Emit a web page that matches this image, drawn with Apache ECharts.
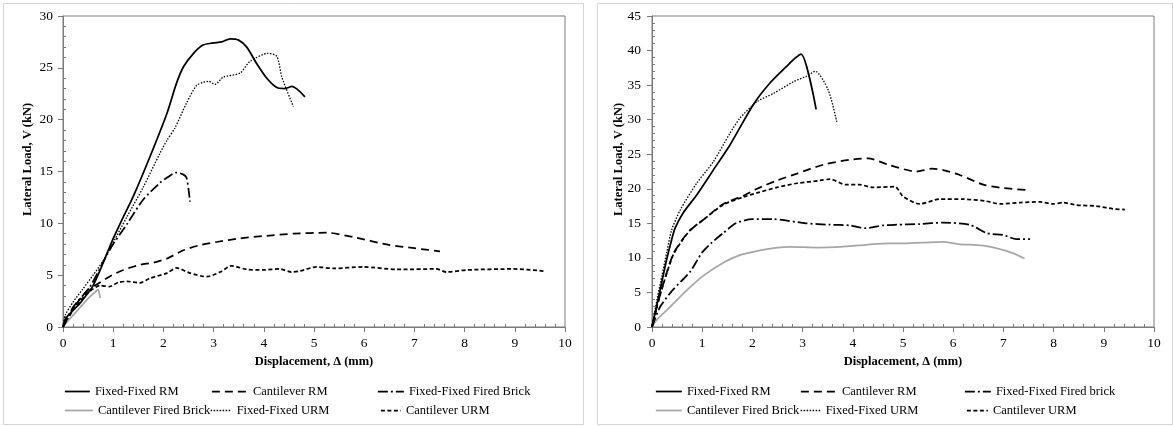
<!DOCTYPE html>
<html>
<head>
<meta charset="utf-8">
<script src="https://cdn.jsdelivr.net/npm/echarts@6/dist/echarts.min.js"></script>
<style>
  html, body { margin: 0; padding: 0; background: #fff; }
  #wrap { position: relative; width: 1173px; height: 426px; }
  #left { position: absolute; left: 0; top: 0; width: 590px; height: 426px; }
  #right { position: absolute; left: 590px; top: 0; width: 583px; height: 426px; }
</style>
</head>
<body>
<div id="wrap"><div id="left"></div><div id="right"></div></div>
<script>
// ---- data: [displacement (mm), lateral load (kN)] ----
const seriesNamesLeft = ['Fixed-Fixed RM', 'Cantilever RM', 'Fixed-Fixed Fired Brick',
  'Cantilever Fired Brick', 'Fixed-Fixed URM', 'Cantilever URM'];
const seriesNamesRight = ['Fixed-Fixed RM', 'Cantilever RM', 'Fixed-Fixed Fired brick',
  'Cantilever Fired Brick', 'Fixed-Fixed URM', 'Cantilever URM'];

const xTicks = [0, 1, 2, 3, 4, 5, 6, 7, 8, 9, 10];
const yTicksLeft = [0, 5, 10, 15, 20, 25, 30];
const yTicksRight = [0, 5, 10, 15, 20, 25, 30, 35, 40, 45];

const leftFixedRM = [[0,0],[0.05,0.8],[0.2,1.6],[0.34,2.3],[0.5,3.3],[0.6,4.0],[0.75,5.6],[0.97,8.2],
  [1.2,10.6],[1.4,12.6],[1.73,16.4],[2.07,20.6],[2.26,23.5],[2.4,25.1],[2.6,26.4],[2.79,27.2],
  [2.99,27.4],[3.16,27.5],[3.33,27.8],[3.49,27.7],[3.66,27.0],[3.86,25.4],[4.06,24.0],[4.26,23.1],
  [4.42,23.0],[4.56,23.2],[4.82,22.2]];
const leftCantRM = [[0,0],[0.25,2.1],[0.5,3.6],[0.67,4.1],[0.94,4.9],[1.2,5.5],[1.53,6.0],[1.8,6.2],
  [2.07,6.6],[2.4,7.4],[2.73,7.9],[3.06,8.2],[3.53,8.55],[4.06,8.8],[4.59,9.0],[5.25,9.1],[5.85,8.6],
  [6.51,7.9],[7.0,7.6],[7.51,7.3]];
const leftFixedBrick = [[0,0],[0.2,1.9],[0.54,3.9],[0.87,6.9],[1.0,8.0],[1.27,9.9],[1.6,12.3],
  [1.93,13.9],[2.1,14.5],[2.26,14.9],[2.4,14.7],[2.46,14.4],[2.5,13.3],[2.53,12.1]];
const leftCantBrick = [[0,0],[0.1,0.6],[0.27,1.5],[0.47,2.6],[0.6,3.2],[0.67,3.5],[0.7,3.6],[0.74,2.8]];
const leftFixedURM = [[0,0],[0.05,1.2],[0.2,2.4],[0.4,3.7],[0.6,5.0],[0.8,6.4],[0.95,7.7],[1.27,10.6],
  [1.6,13.5],[1.93,16.75],[2.07,18.0],[2.23,19.2],[2.46,21.6],[2.66,23.3],[2.79,23.6],[2.9,23.7],
  [3.03,23.4],[3.19,24.1],[3.53,24.5],[3.72,25.6],[4.09,26.4],[4.26,26.1],[4.36,24.1],[4.59,21.25]];
const leftCantURM = [[0,0],[0.25,2.0],[0.5,3.3],[0.74,4.0],[0.93,3.9],[1.1,4.3],[1.27,4.4],[1.53,4.25],
  [1.73,4.7],[2.07,5.2],[2.26,5.7],[2.53,5.2],[2.86,4.85],[3.13,5.3],[3.36,5.9],[3.66,5.55],[3.99,5.5],
  [4.32,5.6],[4.55,5.3],[4.72,5.4],[5.05,5.8],[5.38,5.65],[5.98,5.8],[6.65,5.55],[7.44,5.6],[7.64,5.3],
  [8.04,5.5],[8.97,5.6],[9.57,5.4]];

const rightFixedRM = [[0,0],[0.16,5.3],[0.29,9.7],[0.39,12.6],[0.46,14.3],[0.62,16.5],[0.89,19.1],
  [1.22,22.7],[1.55,26.3],[2.02,32.2],[2.35,35.3],[2.68,37.7],[2.85,38.9],[2.97,39.5],[3.27,31.5]];
const rightCantRM = [[0,0],[0.1,3.0],[0.23,6.4],[0.42,10.5],[0.6,12.6],[0.76,14.0],[1.02,15.5],
  [1.42,17.8],[1.82,19.0],[2.09,20.0],[2.49,21.2],[2.89,22.2],[3.42,23.5],[3.94,24.2],[4.3,24.4],
  [4.74,23.4],[5.27,22.5],[5.57,22.9],[5.8,22.7],[6.13,22.0],[6.6,20.6],[7.0,20.1],[7.53,19.8]];
const rightFixedBrick = [[0,0],[0.16,2.9],[0.42,5.4],[0.76,8.0],[1.0,10.8],[1.19,12.2],[1.42,13.6],
  [1.67,15.0],[2.0,15.6],[2.4,15.6],[3.07,15.0],[3.54,14.8],[3.94,14.7],[4.24,14.3],[4.6,14.7],
  [4.87,14.8],[5.33,14.9],[5.8,15.1],[6.33,14.8],[6.66,13.6],[7.0,13.3],[7.26,12.7],[7.53,12.7]];
const rightCantBrick = [[0,0],[0.09,1.0],[0.36,2.9],[0.69,5.3],[1.02,7.4],[1.42,9.3],[1.75,10.4],
  [2.15,11.1],[2.5,11.5],[2.75,11.6],[3.3,11.5],[3.75,11.6],[4.27,11.9],[4.74,12.1],[5.0,12.1],
  [5.8,12.3],[6.1,12.0],[6.66,11.7],[7.19,10.7],[7.42,9.9]];
const rightFixedURM = [[0,0],[0.1,4.0],[0.2,7.5],[0.3,11.0],[0.39,14.0],[0.56,16.9],[0.89,20.8],
  [1.22,23.9],[1.55,28.0],[1.75,30.2],[2.09,32.6],[2.42,33.8],[2.82,35.5],[3.08,36.3],[3.25,37.0],
  [3.51,34.3],[3.68,29.7]];
const rightCantURM = [[0,0],[0.1,3.0],[0.23,6.3],[0.42,10.4],[0.6,12.5],[0.76,14.0],[1.02,15.5],
  [1.42,17.7],[1.82,18.8],[2.09,19.4],[2.49,20.2],[2.89,20.8],[3.35,21.2],[3.55,21.4],[3.86,20.6],
  [4.13,20.6],[4.4,20.2],[4.84,20.3],[5.0,18.9],[5.33,17.8],[5.73,18.5],[6.2,18.5],[6.66,18.2],
  [6.93,17.8],[7.33,18.0],[7.73,18.1],[7.99,17.8],[8.19,18.0],[8.45,17.65],[8.85,17.5],[9.18,17.1],
  [9.42,17.0]];

// ---- styling ----
const FONT = '"Liberation Serif", "Times New Roman", serif';
const AXIS_GREY = '#7a7a7a';
const lineStyles = [
  { color: '#000000', width: 1.75, type: 'solid' },
  { color: '#000000', width: 1.75, type: [8, 5] },
  { color: '#000000', width: 1.75, type: [10, 3, 2, 3] },
  { color: '#a6a6a6', width: 1.75, type: 'solid' },
  { color: '#000000', width: 1.3, type: [1.5, 1.5] },
  { color: '#000000', width: 1.75, type: [4, 2.5] }
];

function buildPanel(el, names, data, yMax, yTicks, layout) {
  const chart = echarts.init(el, null, { renderer: 'canvas' });
  const xMin = xTicks[0], xMax = xTicks[xTicks.length - 1];
  const xStep = xTicks[1] - xTicks[0];
  const yStep = yTicks[1] - yTicks[0];

  const axisBase = {
    type: 'value',
    gridIndex: 0,
    splitLine: { show: false }
  };

  // one legend block per key so the two rows line up in columns
  const legends = names.map((n, i) => ({
    data: [n],
    left: layout.legend[i][0],
    top: layout.legend[i][1],
    itemWidth: layout.legend[i][2],
    itemHeight: 12,
    padding: 0,
    selectedMode: false,
    itemStyle: { opacity: 0 },
    lineStyle: { width: lineStyles[i].width, type: lineStyles[i].type, color: lineStyles[i].color },
    textStyle: { fontFamily: FONT, fontSize: 12.5, color: '#000' }
  }));

  chart.setOption({
    animation: false,
    backgroundColor: '#ffffff',
    grid: {
      left: layout.gridLeft, top: 16, width: 502, height: 311,
      show: true, borderColor: AXIS_GREY, borderWidth: 1, backgroundColor: 'transparent'
    },
    legend: legends,
    xAxis: [
      Object.assign({}, axisBase, {
        min: xMin, max: xMax, interval: xStep, position: 'bottom',
        axisLine: { onZero: false, lineStyle: { color: AXIS_GREY, width: 1 } },
        axisTick: { show: true, inside: false, length: 5, lineStyle: { color: AXIS_GREY } },
        axisLabel: { margin: 9, fontFamily: FONT, fontSize: 13.5, color: '#000' },
        name: 'Displacement, Δ (mm)', nameLocation: 'middle', nameGap: 28,
        nameMoveOverlap: false,
        nameTextStyle: { fontFamily: FONT, fontSize: 12.5, fontWeight: 'bold', color: '#000' }
      }),
      Object.assign({}, axisBase, {
        min: xMin, max: xMax, interval: xStep, position: 'bottom',
        axisLine: { show: false, onZero: false },
        axisTick: { show: false, inside: true },
        axisLabel: { show: false },
        minorTick: { show: true, splitNumber: 5, length: 3, lineStyle: { color: AXIS_GREY } }
      })
    ],
    yAxis: [
      Object.assign({}, axisBase, {
        min: 0, max: yMax, interval: yStep, position: 'left',
        axisLine: { show: true, onZero: false, lineStyle: { color: AXIS_GREY, width: 1 } },
        axisTick: { show: true, inside: false, length: 5, lineStyle: { color: AXIS_GREY } },
        axisLabel: { margin: layout.yLabelMargin, fontFamily: FONT, fontSize: 13.5, color: '#000' },
        name: 'Lateral Load, V (kN)', nameLocation: 'middle', nameGap: layout.yNameGap,
        nameMoveOverlap: false,
        nameTextStyle: { fontFamily: FONT, fontSize: 12.5, fontWeight: 'bold', color: '#000',
          padding: [0, 0, 0, 24] }
      }),
      Object.assign({}, axisBase, {
        min: 0, max: yMax, interval: yStep, position: 'left',
        axisLine: { show: false, onZero: false },
        axisTick: { show: false, inside: true },
        axisLabel: { show: false },
        minorTick: { show: true, splitNumber: 5, length: 3, lineStyle: { color: AXIS_GREY } }
      })
    ],
    graphic: [{
      type: 'rect',
      shape: layout.frame,
      style: { fill: 'none', stroke: '#d4d4d4', lineWidth: 1 },
      silent: true
    }],
    series: names.map((n, i) => ({
      name: n,
      type: 'line',
      xAxisIndex: 0,
      yAxisIndex: 0,
      data: data[i],
      symbol: 'none',
      smooth: 0.25,
      lineStyle: lineStyles[i],
      itemStyle: { color: lineStyles[i].color },
      z: 10 - i
    }))
  });
  return chart;
}

buildPanel(document.getElementById('left'), seriesNamesLeft,
  [leftFixedRM, leftCantRM, leftFixedBrick, leftCantBrick, leftFixedURM, leftCantURM],
  30, yTicksLeft,
  {
    gridLeft: 63, yLabelMargin: 10, yNameGap: 29,
    frame: { x: 3.5, y: 3.5, width: 580, height: 421 },
    legend: [[64, 385, 25], [211, 385, 36], [377, 385, 26],
             [64, 404, 28], [210, 404, 21], [380, 404, 20]]
  });

buildPanel(document.getElementById('right'), seriesNamesRight,
  [rightFixedRM, rightCantRM, rightFixedBrick, rightCantBrick, rightFixedURM, rightCantURM],
  45, yTicksRight,
  {
    gridLeft: 62, yLabelMargin: 11, yNameGap: 27,
    frame: { x: 7.5, y: 3.5, width: 575, height: 421 },
    legend: [[65, 385, 26], [210, 385, 36], [374, 385, 26],
             [65, 404, 26], [210, 404, 20], [376, 404, 21]]
  });
</script>
</body>
</html>
